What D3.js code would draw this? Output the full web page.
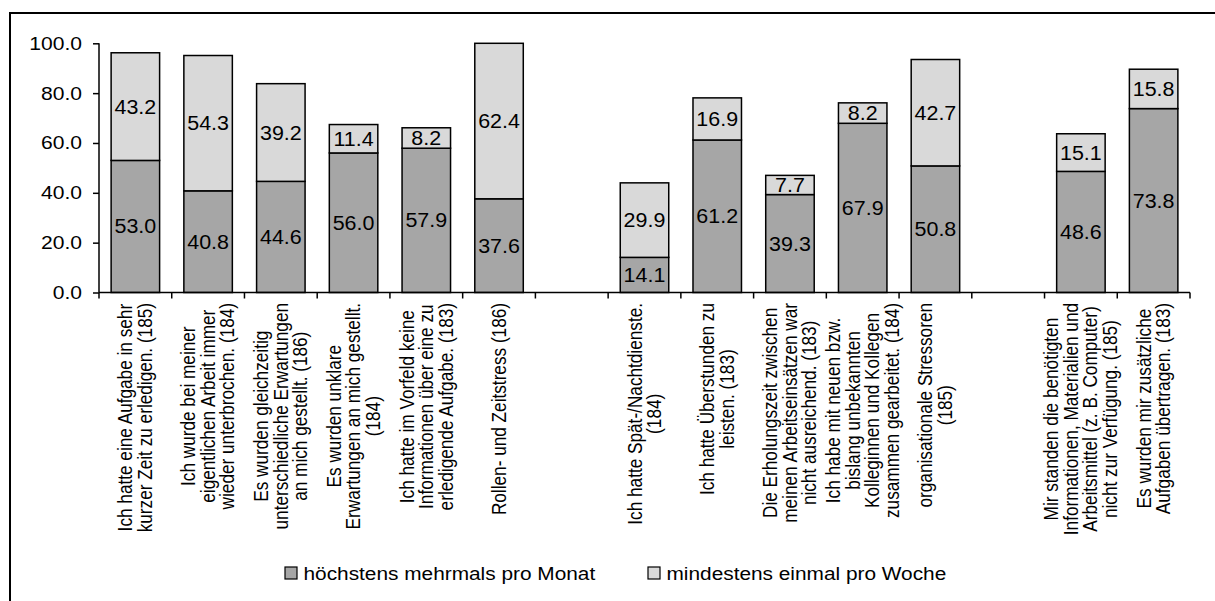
<!DOCTYPE html>
<html><head><meta charset="utf-8">
<script src="https://cdn.jsdelivr.net/npm/d3@7"></script>
<style>body{margin:0;background:#fff}svg{display:block}text{font-family:"Liberation Sans",Arial,sans-serif;fill:#000}</style>
</head><body><svg id="c" width="1215" height="601"></svg>
<script>
const categories = [
  ["Ich hatte eine Aufgabe in sehr", "kurzer Zeit zu erledigen. (185)"],
  ["Ich wurde bei meiner", "eigentlichen Arbeit immer", "wieder unterbrochen. (184)"],
  ["Es wurden gleichzeitig", "unterschiedliche Erwartungen", "an mich gestellt. (186)"],
  ["Es wurden unklare", "Erwartungen an mich gestellt.", "(184)"],
  ["Ich hatte im Vorfeld keine", "Informationen über eine zu", "erledigende Aufgabe. (183)"],
  ["Rollen- und Zeitstress (186)"],
  [],
  ["Ich hatte Spät-/Nachtdienste.", "(184)"],
  ["Ich hatte Überstunden zu", "leisten. (183)"],
  ["Die Erholungszeit zwischen", "meinen Arbeitseinsätzen war", "nicht ausreichend. (183)"],
  ["Ich habe mit neuen bzw.", "bislang unbekannten", "Kolleginnen und Kollegen", "zusammen gearbeitet. (184)"],
  ["organisationale Stressoren", "(185)"],
  [],
  ["Mir standen die benötigten", "Informationen, Materialien und", "Arbeitsmittel (z. B. Computer)", "nicht zur Verfügung. (185)"],
  ["Es wurden mir zusätzliche", "Aufgaben übertragen. (183)"]
];
const monthly = [53.0, 40.8, 44.6, 56.0, 57.9, 37.6, null, 14.1, 61.2, 39.3, 67.9, 50.8, null, 48.6, 73.8];
const weekly  = [43.2, 54.3, 39.2, 11.4, 8.2, 62.4, null, 29.9, 16.9, 7.7, 8.2, 42.7, null, 15.1, 15.8];
const seriesNames = ["höchstens mehrmals pro Monat", "mindestens einmal pro Woche"];
const yTicks = [0, 20, 40, 60, 80, 100];
const colors = ["#a6a6a6", "#d9d9d9"];

// the reference glyphs are slightly wider than tall
function stretch(sel, k) {
  sel.each(function(){
    const L = this.getComputedTextLength();
    d3.select(this).attr("textLength", L * k).attr("lengthAdjust", "spacingAndGlyphs");
  });
}

const svg = d3.select("#c");
svg.append("rect").attr("x", 10).attr("y", 13).attr("width", 1220).attr("height", 600)
  .attr("fill", "none").attr("stroke", "#000").attr("stroke-width", 2);

const pLeft = 99, pRight = 1190, pTop = 43.3, pBottom = 292.5;
const idx = d3.range(categories.length);
const x = d3.scaleBand().domain(idx).range([pLeft, pRight]).paddingInner(1/3).paddingOuter(1/6);
const slot = d3.scaleBand().domain(idx).range([pLeft, pRight]);
const y = d3.scaleLinear().domain([0, 100]).range([pBottom, pTop]);

// bars
const data = idx.filter(i => monthly[i] != null).map(i => ({i, a: monthly[i], b: weekly[i]}));
const g = svg.append("g");
data.forEach(d => {
  const segs = [[0, d.a, colors[0], d.a], [d.a, d.a + d.b, colors[1], d.b]];
  segs.forEach(s => {
    g.append("rect").attr("x", x(d.i)).attr("width", x.bandwidth())
      .attr("y", y(s[1])).attr("height", y(s[0]) - y(s[1]))
      .attr("fill", s[2]).attr("stroke", "#000").attr("stroke-width", 1.5);
  });
  segs.forEach(s => {
    g.append("text").attr("class", "vl").attr("x", x(d.i) + x.bandwidth()/2).attr("y", (y(s[0]) + y(s[1]))/2)
      .attr("dy", "0.36em").attr("text-anchor", "middle").attr("font-size", 19.5)
      .text(d3.format(".1f")(s[3]));
  });
});
stretch(g.selectAll("text.vl"), 1.1);

// y axis
const ya = svg.append("g").attr("transform", `translate(${pLeft},0)`)
  .call(d3.axisLeft(y).tickValues(yTicks).tickFormat(d3.format(".1f")).tickSizeOuter(0).tickSize(6).tickPadding(11));
ya.selectAll("text").attr("font-size", 18.5).style("font-family", '"Liberation Sans",Arial,sans-serif');
stretch(ya.selectAll("text"), 1.14);
ya.selectAll("line,path").attr("stroke", "#000").attr("stroke-width", 1.5);
ya.select("path").attr("d", `M0,${pBottom}V${pTop}`);

// x axis with ticks at slot boundaries
const xa = svg.append("g");
xa.append("line").attr("x1", pLeft).attr("x2", pRight).attr("y1", pBottom).attr("y2", pBottom)
  .attr("stroke", "#000").attr("stroke-width", 1.5);
idx.concat([categories.length]).forEach(i => {
  const xx = i < categories.length ? slot(i) : pRight;
  xa.append("line").attr("x1", xx).attr("x2", xx).attr("y1", pBottom).attr("y2", pBottom + 6)
    .attr("stroke", "#000").attr("stroke-width", 1.5);
});

// category labels (rotated, glyphs widened horizontally like the reference)
const kx = 1.13, lh = 19.5 / kx;
idx.forEach(i => {
  const lines = categories[i];
  if (!lines.length) return;
  const cx = slot(i) + slot.bandwidth()/2;
  const t = svg.append("text").attr("font-size", 17.2).attr("text-anchor", "middle");
  lines.forEach((l, k) => {
    t.append("tspan").attr("x", 0).attr("y", (k - (lines.length - 1)/2) * lh).attr("dy", "0.35em").text(l);
  });
  let w = 0;
  t.selectAll("tspan").each(function(){ w = Math.max(w, this.getComputedTextLength()); });
  t.attr("transform", `translate(${cx},${303 + w/2}) scale(${kx},1) rotate(-90)`);
});

// legend
const legX = [285, 648];
seriesNames.forEach((n, k) => {
  svg.append("rect").attr("x", legX[k]).attr("y", 567).attr("width", 12).attr("height", 12)
    .attr("fill", colors[k]).attr("stroke", "#000").attr("stroke-width", 1.2);
  const t = svg.append("text").attr("x", legX[k] + 18.5).attr("y", 580).attr("font-size", 17.5).text(n);
  stretch(t, 1.19);
});
</script></body></html>
